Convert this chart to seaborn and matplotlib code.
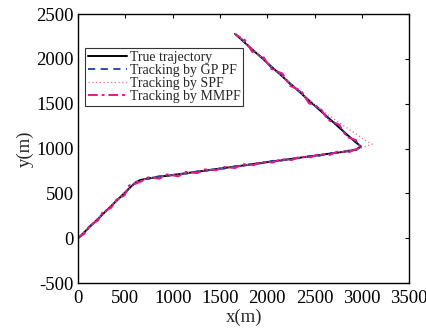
import matplotlib
matplotlib.use("Agg")
import matplotlib.pyplot as plt
import seaborn as sns

# true trajectory
true_x = [0, 60, 130, 200, 270, 340, 410, 480, 550, 610, 660, 750, 850, 950, 1050, 1150, 1250, 1350,
          1450, 1550, 1650, 1750, 1850, 1950, 2050, 2150, 2250, 2350, 2450, 2550, 2650, 2750, 2850,
          2940, 2990, 2930, 2850, 2750, 2650, 2550, 2450, 2350, 2250, 2150, 2050, 1950, 1850, 1750, 1660]
true_y = [0, 62, 134, 206, 278, 350, 422, 494, 566, 625, 650, 669, 684, 698, 712, 727, 741, 755,
          770, 784, 798, 813, 827, 841, 856, 870, 884, 899, 913, 927, 942, 956, 970,
          990, 1025, 1075, 1150, 1245, 1340, 1434, 1529, 1624, 1719, 1814, 1909, 2004, 2098, 2193, 2280]

gp_x = [5, 62, 128, 204, 268, 345, 408, 486, 548, 612, 662, 748, 853, 947, 1052, 1148, 1254, 1347,
        1452, 1548, 1653, 1746, 1852, 1948, 2054, 2147, 2252, 2348, 2453, 2546, 2652, 2748, 2853,
        2945, 2995, 2935, 2846, 2754, 2647, 2553, 2446, 2354, 2247, 2153, 2046, 1954, 1847, 1753, 1664]
gp_y = [5, 54, 140, 202, 288, 344, 425, 484, 574, 620, 654, 663, 692, 695, 717, 720, 745, 750,
        776, 776, 801, 807, 832, 837, 863, 865, 887, 893, 918, 919, 948, 952, 977,
        985, 1022, 1083, 1140, 1257, 1334, 1443, 1518, 1631, 1711, 1824, 1900, 2010, 2091, 2202, 2276]

spf_x = [8, 58, 135, 198, 275, 338, 414, 478, 556, 606, 668, 745, 856, 944, 1056, 1145, 1256, 1344,
         1457, 1545, 1656, 1744, 1857, 1945, 2056, 2144, 2257, 2345, 2456, 2544, 2656, 2750, 2870,
         2990, 3110, 3040, 2930, 2800, 2680, 2560, 2446, 2356, 2244, 2156, 2044, 1956, 1844, 1756, 1658]
spf_y = [-4, 68, 128, 214, 272, 358, 416, 502, 560, 632, 642, 676, 678, 705, 706, 734, 736, 762,
         764, 791, 792, 820, 821, 848, 850, 877, 878, 906, 907, 934, 936, 962, 975,
         1005, 1050, 1090, 1170, 1260, 1350, 1440, 1540, 1616, 1730, 1806, 1920, 1996, 2110, 2186, 2288]

mm_x = [-5, 66, 124, 208, 262, 350, 404, 490, 540, 615, 680, 742, 860, 940, 1060, 1140, 1260, 1340,
        1460, 1540, 1660, 1740, 1860, 1940, 2060, 2140, 2260, 2340, 2460, 2540, 2660, 2740, 2860,
        2950, 2985, 2940, 2840, 2760, 2640, 2560, 2440, 2360, 2240, 2160, 2040, 1960, 1840, 1760, 1665]
mm_y = [8, 50, 146, 196, 296, 340, 430, 478, 590, 610, 640, 680, 664, 712, 690, 740, 726, 768,
        758, 796, 782, 826, 816, 852, 844, 882, 872, 910, 902, 938, 930, 966, 958,
        998, 1018, 1095, 1130, 1268, 1320, 1455, 1505, 1645, 1700, 1838, 1890, 2022, 2080, 2215, 2270]

sns.set_theme(style="white")
plt.rcParams["font.family"] = ["Liberation Serif", "DejaVu Serif"]
plt.rcParams["axes.unicode_minus"] = False

fig = plt.figure(figsize=(4.27, 3.28), dpi=100)
ax = fig.add_axes([0.183, 0.137, 0.775, 0.820])

sns.lineplot(x=true_x, y=true_y, sort=False, estimator=None, color="black", linewidth=1.4,
             label="True trajectory", ax=ax)
sns.lineplot(x=gp_x, y=gp_y, sort=False, estimator=None, color="#2b3a9a", linewidth=1.3,
             linestyle=(0, (4, 3)), label="Tracking by GP PF", ax=ax)
sns.lineplot(x=spf_x, y=spf_y, sort=False, estimator=None, color="#f06a86", linewidth=0.9,
             linestyle=(0, (1, 2)), label="Tracking by SPF", ax=ax)
sns.lineplot(x=mm_x, y=mm_y, sort=False, estimator=None, color="#e5198a", linewidth=1.4,
             linestyle=(0, (5, 2, 1.5, 2)), label="Tracking by MMPF", ax=ax)

ax.set_xlim(0, 3500)
ax.set_ylim(-500, 2500)
ax.set_xticks(range(0, 3501, 500))
ax.set_yticks(range(-500, 2501, 500))
ax.set_xlabel("x(m)", fontsize=13.5, labelpad=1)
ax.set_ylabel("y(m)", fontsize=13.5, labelpad=2)
ax.tick_params(direction="in", length=3, width=0.8, labelsize=13.5, top=True, right=True,
               colors="black")
ax.tick_params(axis="x", pad=5)
ax.tick_params(axis="y", pad=3)
for s in ax.spines.values():
    s.set_visible(True)
    s.set_color("black")
    s.set_linewidth(1.0)

leg = ax.legend(loc="upper left", bbox_to_anchor=(0.021, 0.874), fontsize=10, frameon=True,
                fancybox=False, borderpad=0.2, labelspacing=0.0, handlelength=2.8,
                handletextpad=0.2, borderaxespad=0)
leg.get_frame().set_edgecolor("black")
leg.get_frame().set_linewidth(0.8)

fig.savefig("out.png", dpi=100)
